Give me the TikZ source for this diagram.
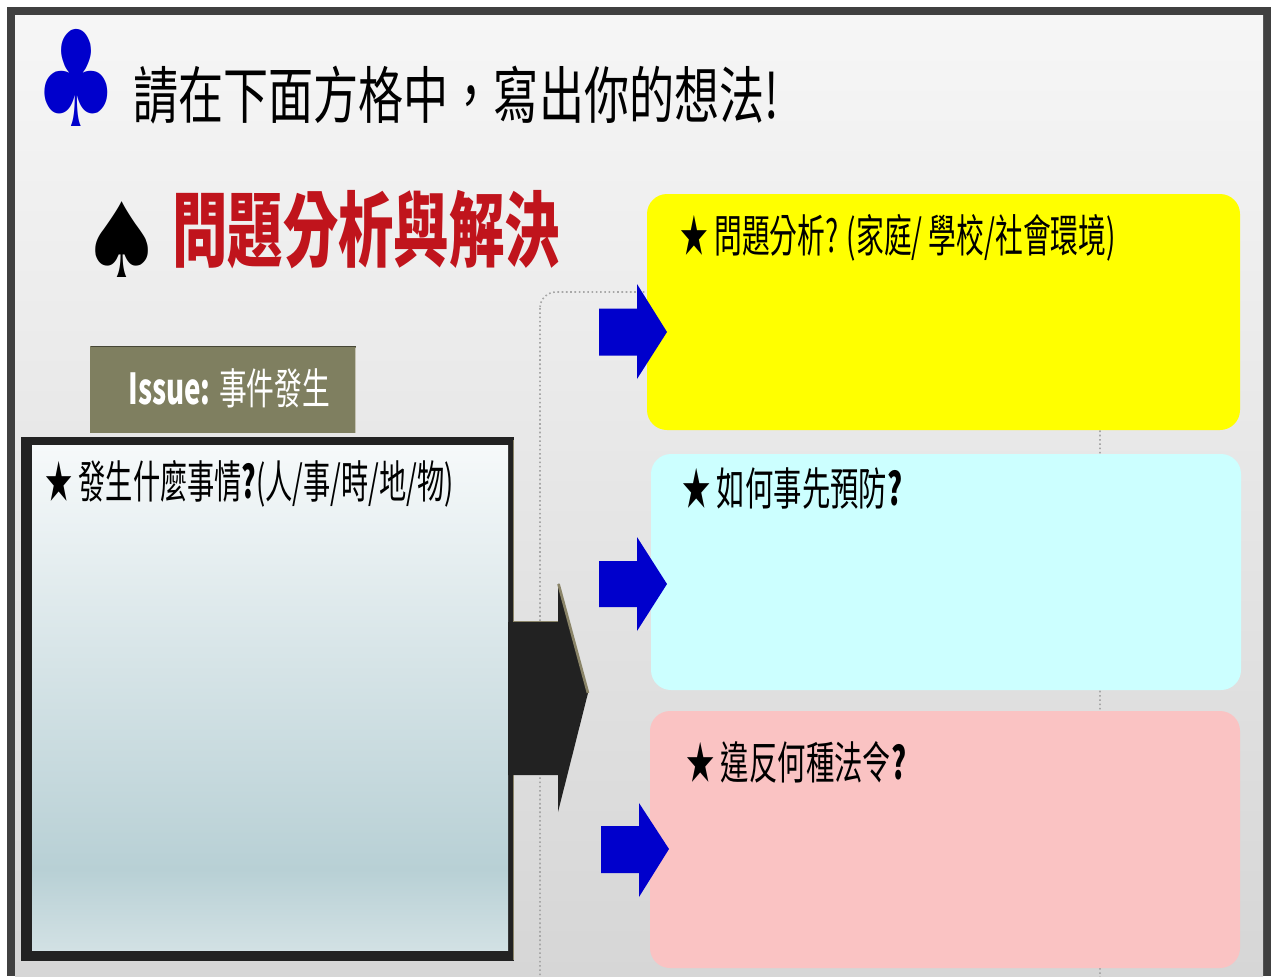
\documentclass[tikz,border=0pt]{standalone}
\usepackage{fontspec}
\newfontfamily\cjk{Noto Sans CJK TC}
\newfontfamily\suitfont{DejaVu Sans}

\definecolor{framegray}{HTML}{404040}
\definecolor{bgtop}{HTML}{F6F6F6}
\definecolor{bgbot}{HTML}{D6D6D6}
\definecolor{panelgray}{HTML}{222222}
\definecolor{paneltop}{HTML}{F6F9FA}
\definecolor{paneldark}{HTML}{B8D0D5}
\definecolor{panelbot}{HTML}{D2E1E4}
\definecolor{tabolive}{HTML}{7F7F60}
\definecolor{khaki}{HTML}{8A8468}
\definecolor{suitblue}{HTML}{0000CC}
\definecolor{titlered}{HTML}{C0141C}
\definecolor{boxyellow}{HTML}{FFFF00}
\definecolor{boxcyan}{HTML}{CCFFFF}
\definecolor{boxpink}{HTML}{FAC3C3}
\definecolor{dotgray}{HTML}{A8A8A8}

\pgfdeclareverticalshading{panelshade}{100bp}{color(0bp)=(panelbot); color(25bp)=(panelbot); color(33bp)=(paneldark); color(75bp)=(paneltop); color(100bp)=(paneltop)}

\tikzset{every picture/.style={line width=0.75pt}}
\tikzset{
  labeltext/.style={anchor=west, inner sep=0pt, xscale=0.63, font=\cjk\fontsize{33.75}{34}\selectfont},
  bluearrow/.style={fill=suitblue},
  infobox/.style={rounded corners=15}
}

\begin{document}
\begin{tikzpicture}[x=0.75pt,y=0.75pt,yscale=-1,xscale=1]
\useasboundingbox (0,0) rectangle (1271,976);

%Slide frame
\fill[white] (0,0) rectangle (1271,976);
\fill[framegray] (7,7) rectangle (1271,976);
\shade[top color=bgtop,bottom color=bgbot] (15,15) rectangle (1263,976);

%Dotted guide
\begin{scope}
\clip (15,15) rectangle (1263,976);
\draw[dotgray,dotted,line width=1.2,rounded corners=12] (540,292) rectangle (1100,1010);
\end{scope}

% Text Node
\node (clubmark) [inner sep=0pt, text=suitblue, xscale=0.7, font=\suitfont\fontsize{100}{100}\selectfont] at (76,78) {♣};
% Text Node
\node (prompt) [anchor=west, inner sep=0pt, xscale=0.727, font=\cjk\fontsize{46.5}{47}\selectfont] at (133,95) {請在下面方格中，寫出你的想法!};
% Text Node
\node (spademark) [inner sep=0pt, xscale=0.87, font=\suitfont\fontsize{78}{78}\selectfont] at (122,240) {♠};
% Text Node
\node (maintitle) [anchor=west, inner sep=0pt, xscale=0.675, text=titlered, font=\cjk\bfseries\fontsize{61.5}{62}\selectfont] at (172,230) {問題分析與解決};

%Issue tab
\fill[tabolive] (90,346) rectangle (356,433);
\draw[tabolive!55!black] (91,346.5) -- (356,346.5);
\draw[khaki!50!white,line width=1.2] (355.5,348) -- (355.5,433);
% Text Node
\node (issuelabel) [anchor=west, inner sep=0pt, xscale=0.65, text=white, font=\cjk\fontsize{32}{32}\selectfont] at (128,388) {{\bfseries Issue:} 事件發生};

%Event panel
\fill[panelgray] (21,437) rectangle (514,961);
\draw[khaki] (513.5,440) -- (513.5,960);
\shade[shading=panelshade] (32,445) rectangle (508,950);

%Big arrow
\fill[panelgray] (508,622) -- (558,622) -- (558,583) -- (588,693) -- (558,812) -- (558,775) -- (508,775) -- cycle;
\draw[khaki,line width=2] (558.5,584) -- (588,693);
\draw[khaki] (514,621.5) -- (558,621.5);

%Answer boxes
\fill[boxyellow,infobox] (647,194) rectangle (1240,430);
\fill[boxcyan,infobox] (651,454) rectangle (1241,690);
\fill[boxpink,infobox] (650,711) rectangle (1240,968);

%Blue arrows
\fill[bluearrow] (599,308.5) -- (637,308.5) -- (637,284) -- (667,332) -- (637,379) -- (637,355.5) -- (599,355.5) -- cycle;
\fill[bluearrow] (599,561) -- (637,561) -- (637,537) -- (667,584) -- (637,631) -- (637,607) -- (599,607) -- cycle;
\fill[bluearrow] (601,826) -- (639,826) -- (639,803) -- (669,849) -- (639,897) -- (639,873) -- (601,873) -- cycle;

% Text Node
\node (eventlabel) [labeltext, xscale=0.96] at (45,484) {★ 發生什麼事情{\bfseries ?}(人/事/時/地/物)};
% Text Node
\node (analysislabel) [labeltext, xscale=0.98] at (680,238) {★ 問題分析? (家庭/ 學校/社會環境)};
% Text Node
\node (preventlabel) [labeltext] at (682,488) {★ 如何事先預防{\bfseries ?}};
% Text Node
\node (lawlabel) [labeltext] at (686,762) {★ 違反何種法令{\bfseries ?}};

\end{tikzpicture}
\end{document}
